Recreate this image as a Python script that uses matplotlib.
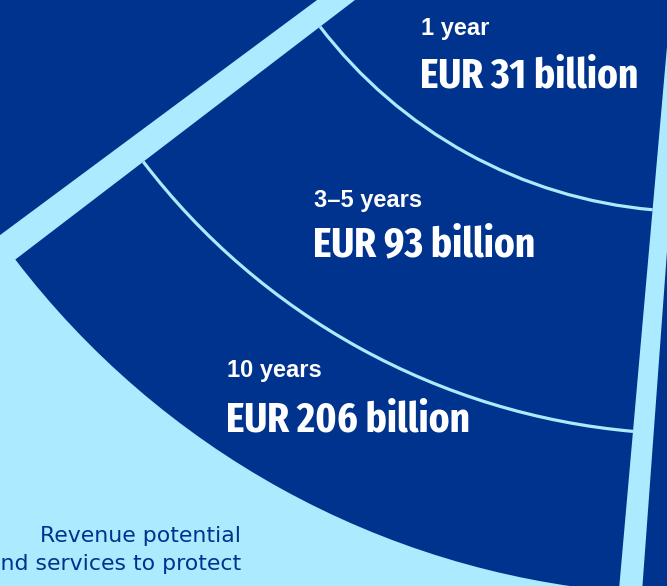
import os

import matplotlib
matplotlib.use("Agg")
import matplotlib.pyplot as plt
import numpy as np
from matplotlib import font_manager as fm
from matplotlib.patches import Arc, Wedge

# time horizons and cumulative revenue potential (EUR billion)
periods = ["1 year", "3–5 years", "10 years"]
revenue = [31, 93, 206]
caption = ["Revenue potential", "and services to protect"]

NAVY = "#00338D"
SKY = "#ACEAFF"

W, H = 667, 586
# the fan's centre sits above the canvas, top right
cx, cy = 694, -259
# radius grows with log of the value
r_a, r_b = -224.8, 202.5
# fan edges, degrees (y axis points down)
fan_lo, fan_hi = 95.05, 142.62


def radius(v):
    return r_a + r_b * np.log(v)


def px(p):
    # pixels -> points at dpi 100
    return p * 72 / 100


def condensed_bold():
    """Narrowest upright bold face on the system."""
    best, best_score = None, 0
    for f in fm.fontManager.ttflist:
        base = os.path.basename(f.fname).lower()
        w = f.weight if isinstance(f.weight, int) else fm.weight_dict.get(f.weight, 400)
        if w != 700 or f.style != "normal" or "mono" in base:
            continue
        if "extracondensed" in base or "extra condensed" in f.name.lower():
            score = 4
        elif "semicondensed" in base:
            score = 2
        elif "condensed" in base or "narrow" in base or "cond" in base:
            score = 3
        elif f.stretch in ("condensed", "extra-condensed", "ultra-condensed"):
            score = 3
        else:
            continue
        if "dejavu" in base:
            score = 1
        if score > best_score:
            best, best_score = f.fname, score
    if best is None:
        return fm.FontProperties(family="Liberation Sans", weight="bold")
    return fm.FontProperties(fname=best)


fig = plt.figure(figsize=(W / 100, H / 100), dpi=100)
fig.patch.set_facecolor(SKY)
ax = fig.add_axes([0, 0, 1, 1])
ax.set_xlim(0, W)
ax.set_ylim(H, 0)
ax.axis("off")

r_out = radius(revenue[-1])

# neighbouring segments, their light edge makes the gap
ax.add_patch(Wedge((cx, cy), 1.3 * r_out, 30, fan_lo - 0.855, facecolor=NAVY,
                   edgecolor=SKY, linewidth=px(2 * 10.4), joinstyle="round"))
ax.add_patch(Wedge((cx, cy), 1.3 * r_out, fan_hi + 0.82, 215, facecolor=NAVY,
                   edgecolor=SKY, linewidth=px(2 * 16.5), joinstyle="round"))

# one ring per horizon, outermost first
prev = 0
rings = []
for v in revenue:
    r = radius(v)
    rings.append((r, r - prev))
    prev = r
for r, w in rings[::-1]:
    ax.add_patch(Wedge((cx, cy), r, fan_lo, fan_hi, width=w, facecolor=NAVY,
                       edgecolor="none"))
for r, w in rings[:-1]:
    ax.add_patch(Arc((cx, cy), 2 * r, 2 * r, theta1=fan_lo, theta2=fan_hi,
                     color=SKY, linewidth=px(3.2)))

# size the headline font: tall caps, but keep the widest line near 244 px
big = condensed_bold()
big.set_size(10)
renderer = fig.canvas.get_renderer()
probe = ax.text(0, 0, f"EUR {max(revenue)} billion", fontproperties=big)
wid = probe.get_window_extent(renderer).width
probe.remove()
big.set_size(min(34, 10 * 244 / wid))

label_x = [421, 314, 227]
label_y = [35, 207, 377]
value_y = [88, 256, 432]
for x, y, yv, p, v in zip(label_x, label_y, value_y, periods, revenue):
    ax.text(x, y, p, color="white", fontsize=17, fontweight="bold",
            family="Liberation Sans", va="baseline", ha="left")
    ax.text(x - 1, yv, f"EUR {v} billion", color="white",
            fontproperties=big, va="baseline", ha="left")

for i, line in enumerate(caption):
    ax.text(241, 542 + 28 * i, line, color=NAVY, fontsize=15.8,
            family="DejaVu Sans", va="baseline", ha="right")

fig.savefig("out.png", dpi=100, facecolor=SKY)
